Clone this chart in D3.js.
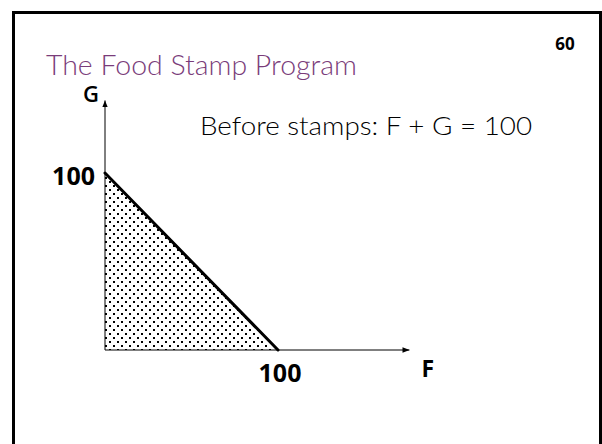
<!DOCTYPE html>
<html>
<head>
<meta charset="utf-8">
<script src="https://cdn.jsdelivr.net/npm/d3@7"></script>
<style>
  html, body { margin: 0; padding: 0; background: #fff; }
  svg { display: block; }
</style>
</head>
<body>
<svg id="chart" width="602" height="444"></svg>
<script>
// Budget constraint before food stamps: F + G = income
const income = [100];                 // total budget
const budgetF = [0, 100];             // food quantities at the two corners
const budgetG = [100, 0];             // other goods at the same corners
const axisMax = { F: 176, G: 141 };   // how far each axis arrow runs
const xTickLabels = ["100"];
const yTickLabels = ["100"];
const axisNames = ["F", "G"];
const titleText = "The Food Stamp Program";
const pageNumber = "60";
const noteText = "Before stamps: F + G = " + income[0];

const svg = d3.select("#chart");

// slide frame (open at the bottom)
svg.append("path")
  .attr("d", "M13.5,450 V12.5 H600.5 V450")
  .attr("fill", "none")
  .attr("stroke", "#000")
  .attr("stroke-width", 3);

// dotted fill pattern
const defs = svg.append("defs");
const pat = defs.append("pattern")
  .attr("id", "dots")
  .attr("patternUnits", "userSpaceOnUse")
  .attr("width", 8).attr("height", 8);
pat.append("rect").attr("x", 1).attr("y", 1).attr("width", 2).attr("height", 2)
  .attr("fill", "#000").attr("shape-rendering", "crispEdges");
pat.append("rect").attr("x", 5).attr("y", 5).attr("width", 2).attr("height", 2)
  .attr("fill", "#000").attr("shape-rendering", "crispEdges");

const arrow = defs.append("marker")
  .attr("id", "arrow")
  .attr("viewBox", "0 0 10 10")
  .attr("refX", 10).attr("refY", 5)
  .attr("markerWidth", 7).attr("markerHeight", 7)
  .attr("markerUnits", "userSpaceOnUse")
  .attr("orient", "auto");
arrow.append("path").attr("d", "M0,1 L10,5 L0,9 Z").attr("fill", "#000");

const x = d3.scaleLinear().domain([0, 100]).range([105, 278]);
const y = d3.scaleLinear().domain([0, 100]).range([350, 173]);

// title and page number
svg.append("text")
  .attr("x", 46).attr("y", 75)
  .attr("font-family", "Lato, 'Noto Sans', sans-serif")
  .attr("font-weight", 300)
  .attr("font-size", 27)
  .attr("fill", "#7a3c7a")
  .attr("textLength", 311)
  .attr("lengthAdjust", "spacingAndGlyphs")
  .text(titleText);

svg.append("text")
  .attr("x", 565).attr("y", 50)
  .attr("text-anchor", "middle")
  .attr("font-family", "'Open Sans', sans-serif")
  .attr("font-weight", 700)
  .attr("font-size", 17)
  .attr("fill", "#000")
  .text(pageNumber);

// feasible set under the budget line
const corners = [[0, 0], [budgetF[0], budgetG[0]], [budgetF[1], budgetG[1]]];
svg.append("path")
  .attr("d", d3.line().x(d => x(d[0])).y(d => y(d[1]))(corners) + "Z")
  .attr("fill", "url(#dots)")
  .attr("stroke", "none");

// axes
svg.append("line")
  .attr("x1", x(0)).attr("y1", y(0))
  .attr("x2", x(axisMax.F)).attr("y2", y(0))
  .attr("stroke", "#000").attr("stroke-width", 1)
  .attr("marker-end", "url(#arrow)");
svg.append("line")
  .attr("x1", x(0)).attr("y1", y(0))
  .attr("x2", x(0)).attr("y2", y(axisMax.G))
  .attr("stroke", "#000").attr("stroke-width", 1)
  .attr("marker-end", "url(#arrow)");

// budget line
svg.append("line")
  .attr("x1", x(budgetF[0])).attr("y1", y(budgetG[0]))
  .attr("x2", x(budgetF[1])).attr("y2", y(budgetG[1]))
  .attr("stroke", "#000").attr("stroke-width", 3)
  .attr("stroke-linecap", "round");

const labelFont = "'Open Sans', sans-serif";

// intercept labels
svg.append("text")
  .attr("x", x(income[0]) + 2).attr("y", y(0) + 32)
  .attr("text-anchor", "middle")
  .attr("font-family", labelFont).attr("font-weight", 700).attr("font-size", 25)
  .text(xTickLabels[0]);
svg.append("text")
  .attr("x", x(0) - 10).attr("y", y(income[0]) + 12)
  .attr("text-anchor", "end")
  .attr("font-family", labelFont).attr("font-weight", 700).attr("font-size", 25)
  .text(yTickLabels[0]);

// axis names
svg.append("text")
  .attr("x", x(axisMax.F) + 12).attr("y", y(0) + 27)
  .attr("font-family", labelFont).attr("font-weight", 700).attr("font-size", 23)
  .text(axisNames[0]);
svg.append("text")
  .attr("x", x(0) - 22).attr("y", y(axisMax.G) + 2)
  .attr("font-family", labelFont).attr("font-weight", 600).attr("font-size", 22)
  .text(axisNames[1]);

// budget equation
svg.append("text")
  .attr("x", 200).attr("y", 135)
  .attr("font-family", "Lato, 'Noto Sans', sans-serif")
  .attr("font-weight", 300)
  .attr("font-size", 25)
  .attr("fill", "#000")
  .attr("textLength", 332)
  .attr("lengthAdjust", "spacingAndGlyphs")
  .text(noteText);
</script>
</body>
</html>
